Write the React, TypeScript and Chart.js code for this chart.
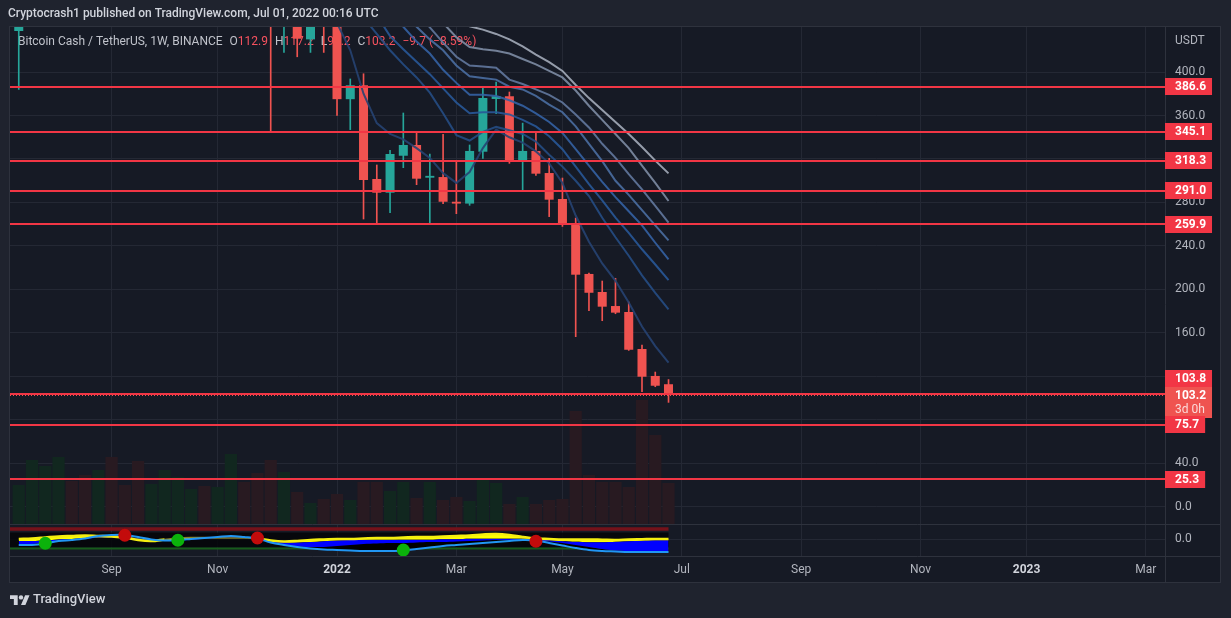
import React, { useEffect, useRef } from 'react';
import { Chart, registerables } from 'chart.js';

Chart.register(...registerables);

// ---------- data ----------
const weekStarts = [
  '2021-07-19', '2021-07-26', '2021-08-02', '2021-08-09', '2021-08-16', '2021-08-23', '2021-08-30',
  '2021-09-06', '2021-09-13', '2021-09-20', '2021-09-27', '2021-10-04', '2021-10-11', '2021-10-18', '2021-10-25',
  '2021-11-01', '2021-11-08', '2021-11-15', '2021-11-22', '2021-11-29', '2021-12-06', '2021-12-13', '2021-12-20', '2021-12-27',
  '2022-01-03', '2022-01-10', '2022-01-17', '2022-01-24', '2022-01-31', '2022-02-07', '2022-02-14', '2022-02-21', '2022-02-28',
  '2022-03-07', '2022-03-14', '2022-03-21', '2022-03-28', '2022-04-04', '2022-04-11', '2022-04-18', '2022-04-25',
  '2022-05-02', '2022-05-09', '2022-05-16', '2022-05-23', '2022-05-30', '2022-06-06', '2022-06-13', '2022-06-20', '2022-06-27',
];

const opens = [437.7, 530, 535, 610, 700, 640, 620, 680, 610, 600, 540, 570, 620, 630, 640, 600, 610, 680, 580, 560,
  458, 465, 430, 455, 446, 375, 387.8, 301.6, 289, 323, 332.9, 302.8, 303.4, 280.7, 279, 326.7, 375.2, 377.7, 318.2, 327.4,
  307.1, 283.2, 261.1, 214.3, 197.7, 184.8, 179.3, 145.3, 120.5, 112.9];
const highs = [545, 560, 620, 740, 730, 690, 700, 720, 660, 610, 590, 640, 660, 680, 660, 640, 720, 690, 620, 570,
  500, 480, 470, 480, 455, 393.6, 398.4, 314.5, 328, 362.3, 343.6, 324.6, 342.7, 317.5, 332.9, 385.9, 390.8, 381.6, 353, 344.2,
  320.6, 302.5, 265.7, 215.2, 207.8, 210.3, 188.5, 149, 124.1, 117.2];
const lows = [384, 490, 520, 600, 615, 610, 615, 520, 590, 510, 520, 560, 590, 610, 580, 570, 600, 560, 530, 345,
  418, 414, 418, 418, 360, 347, 264.8, 260.2, 270.6, 312, 296.4, 259.6, 279, 269.7, 277.4, 320.6, 361.7, 316, 290.8, 305,
  267, 258, 156.6, 180.5, 171.3, 177.7, 144, 106, 110.6, 96.2];
const closes = [530, 535, 610, 700, 640, 620, 680, 610, 600, 540, 570, 620, 630, 640, 600, 610, 680, 580, 560, 460,
  465, 430.6, 455, 446, 375, 387.8, 300.7, 289, 324.6, 332.9, 301.9, 304.5, 280.7, 279, 327.4, 376.1, 377.7, 318.4, 327.4, 306.5,
  282.6, 260.2, 213.6, 197, 184.2, 178.7, 144.6, 119.8, 111.5, 103.2];
const volumes = [390, 640, 580, 670, 430, 490, 540, 670, 390, 630, 400, 540, 470, 350, 380, 370, 700, 420, 510, 640,
  520, 320, 210, 250, 300, 240, 420, 420, 330, 420, 260, 420, 240, 270, 230, 440, 410, 200, 270, 200,
  240, 250, 1130, 490, 420, 420, 370, 1240, 890, 410];

const N = null;
const ribbon1 = [N, N, N, N, N, N, N, N, N, N, N, N, N, N, N, N, N, N, N, N, N, N, N, N, N, N, N, N, N, N, N, N, N,
  450, 442, 439, 435, 430, 423.5, 416, 409, 401, 388, 376, 365, 354, 343, 331, 318.5, 306.8];
const ribbon2 = [N, N, N, N, N, N, N, N, N, N, N, N, N, N, N, N, N, N, N, N, N, N, N, N, N, N, N, N, N, N, N, N,
  445, 432, 423, 421, 419.5, 417, 412, 407, 401, 395, 383, 369, 356, 343, 330, 314, 298, 281.4];
const ribbon3 = [N, N, N, N, N, N, N, N, N, N, N, N, N, N, N, N, N, N, N, N, N, N, N, N, N, N, N, N, N, N,
  455, 441, 427, 414, 406, 405, 404, 393, 389, 384, 379, 372, 361, 349, 334, 321, 306, 292, 277, 261.4];
const ribbon4 = [N, N, N, N, N, N, N, N, N, N, N, N, N, N, N, N, N, N, N, N, N, N, N, N, N, N, N, N, N,
  455, 441.6, 430, 420, 406, 396, 394.5, 393, 386.5, 384, 378, 370, 363, 350, 334, 318, 300, 287, 273, 259, 245.2];
const ribbon5 = [N, N, N, N, N, N, N, N, N, N, N, N, N, N, N, N, N, N, N, N, N, N, N, N, N, N, N, N,
  456, 441.6, 428, 417, 402, 390, 379, 379, 378, 374, 369, 362, 354, 344, 329, 314, 299, 285, 272, 259, 243, 227.7];
const ribbon6 = [N, N, N, N, N, N, N, N, N, N, N, N, N, N, N, N, N, N, N, N, N, N, N, N, N, N, N,
  452, 433, 421, 409.5, 398, 385, 372, 362, 363, 363, 361, 356, 350, 341, 329, 313, 297, 282, 266, 252, 237, 223, 208.7];
const ribbon7 = [N, N, N, N, N, N, N, N, N, N, N, N, N, N, N, N, N, N, N, N, N, N, N, N, N, N,
  450, 435, 420, 407, 395, 381, 362, 342, 337, 345, 349.5, 346.5, 343, 336, 324, 313, 300, 286, 266, 248, 231, 213, 197, 181.8];
const ribbon8 = [N, N, N, N, N, N, N, N, N, N, N, N, N, N, N, N, N, N, N, N, N, N, N,
  470, 445, 420, 380, 353, 343, 338, 330, 321, 307, 298, 308, 330, 347, 340, 335, 327, 316, 298, 268, 244, 224, 208, 188, 166, 148, 132.7];

const waveYellow = [0, 2, 6, 10, 12, 14, 12, 10, 6, -4, -8, -2, 4, 6, 6, 4, 4, 4, 2, -6, -10, -8, -4, -2, 0,
  0, 2, 4, 4, 6, 8, 8, 10, 12, 14, 18, 20, 16, 8, 2, 0, -2, -2, -2, -3, -4, -2, -1, 0, 0];
const waveTop = [-8, -8, -6, -2, 0, 4, 6, 8, 8, 2, -4, -5, -3, -1, 2, 6, 8, 6, 2, -10, -14, -14, -12, -9, -6,
  -4, -3, -3, -3, -3, -3, -3, -1, -1, 1, 1, 1, 1, 1, -1, -5, -9, -11, -13, -13, -11, -9, -7, -5, -5];
const waveBottom = [-22, -20, -12, -6, -2, 2, 4, 6, 6, 0, -6, -8, -6, -3, 1, 4, 6, 4, 0, -14, -24, -30, -32, -32, -28,
  -24, -20, -18, -16, -16, -14, -12, -12, -10, -8, -6, -4, -4, -4, -4, -10, -16, -24, -32, -40, -46, -48, -50, -50, -50];
const waveSignal = [-24, -24, -18, -8, -4, 2, 12, 16, 16, 8, -2, -6, -4, 0, 4, 8, 12, 8, 2, -14, -24, -32, -38, -42, -44,
  -46, -48, -48, -48, -46, -40, -34, -28, -24, -20, -16, -12, -8, -4, -6, -16, -26, -36, -44, -48, -50, -52, -52, -52, -52];
const dimYellowWeeks = [11, 12, 13, 14, 15, 16, 17, 18];
const greenDotWeeks = [2, 12, 29];
const greenDotValues = [-17, -5, -44];
const redDotWeeks = [8, 18, 39];
const redDotValues = [15, 4, -9];
const indicatorUpper = 40;
const indicatorLower = -38;
const indicatorShadeTop = 26;
const indicatorShadeBottom = -34;

const levelPrices = [386.6, 345.1, 318.3, 291.0, 259.9, 103.8, 75.7, 25.3];
const lastClose = 103.2;
const countdown = '3d 0h';
const priceTicks = [0, 40, 80, 120, 160, 200, 240, 280, 320, 360, 400];
const hiddenPriceLabels = [80, 120, 320];
const timeTickWeeks = [7, 15, 24, 33, 41, 50, 59, 68, 76, 85];
const timeTickLabels = ['Sep', 'Nov', '2022', 'Mar', 'May', 'Jul', 'Sep', 'Nov', '2023', 'Mar'];

const headerText = 'Cryptocrash1 published on TradingView.com, Jul 01, 2022 00:16 UTC';
const symbolText = 'Bitcoin Cash / TetherUS, 1W, BINANCE';
const ohlcText = [['O', '112.9'], ['H', '117.2'], ['L', '96.2'], ['C', '103.2']];
const changeText = '\u22129.7 (\u22128.59%)';

// ---------- style ----------
const W = 1231;
const H = 618;
const OUTER_BG = '#1f232e';
const PANE_BG = '#161a25';
const GRID = '#242834';
const BORDER = '#2e323d';
const TEXT = '#b2b5be';
const LEVEL = '#f23645';
const UP = '#26a69a';
const DOWN = '#ef5350';
const FONT = 'Roboto, "Noto Sans", sans-serif';
const ribbonColors = [
  'rgba(172,180,194,0.85)', 'rgba(132,147,172,0.85)', 'rgba(102,126,166,0.85)', 'rgba(74,110,162,0.9)',
  'rgba(52,98,164,0.9)', 'rgba(40,88,152,0.9)', 'rgba(37,76,132,0.9)', 'rgba(38,66,114,0.9)',
];

const tvPlugin = {
  id: 'tvDecor',
  beforeDraw(chart: any) {
    const { ctx, chartArea: a, scales } = chart;
    ctx.save();
    ctx.fillStyle = OUTER_BG;
    ctx.fillRect(0, 0, chart.width, chart.height);
    ctx.fillStyle = PANE_BG;
    ctx.fillRect(a.left - 1, a.top - 1, scales.y.right - a.left + 2, scales.x.bottom - a.top + 2);
    ctx.restore();
  },
  beforeDatasetsDraw(chart: any) {
    const { ctx, chartArea: a, scales } = chart;
    const yi = scales.yi;
    const xs = scales.x;
    ctx.save();
    ctx.beginPath();
    ctx.rect(a.left, a.top, a.right - a.left, a.bottom - a.top);
    ctx.clip();
    const y0 = Math.round(yi.getPixelForValue(0)) + 0.5;
    ctx.strokeStyle = GRID;
    ctx.lineWidth = 1;
    ctx.beginPath();
    ctx.moveTo(a.left, y0);
    ctx.lineTo(a.right, y0);
    ctx.stroke();
    const xEnd = xs.getPixelForValue(weekStarts.length - 1);
    // dark shade behind waves
    const st = yi.getPixelForValue(indicatorShadeTop);
    const sb = yi.getPixelForValue(indicatorShadeBottom);
    ctx.fillStyle = 'rgba(4,5,8,0.85)';
    ctx.fillRect(a.left, st, xEnd - a.left, sb - st);
    ctx.strokeStyle = '#74121a';
    ctx.lineWidth = 3.5;
    ctx.beginPath();
    ctx.moveTo(a.left, yi.getPixelForValue(indicatorUpper));
    ctx.lineTo(xEnd, yi.getPixelForValue(indicatorUpper));
    ctx.stroke();
    ctx.strokeStyle = '#175a1b';
    ctx.lineWidth = 2;
    ctx.beginPath();
    ctx.moveTo(a.left, yi.getPixelForValue(indicatorLower));
    ctx.lineTo(xEnd, yi.getPixelForValue(indicatorLower));
    ctx.stroke();
    ctx.restore();

    // legend text
    ctx.save();
    ctx.font = `12px ${FONT}`;
    ctx.textBaseline = 'middle';
    let x = 18;
    const ly = 42;
    ctx.fillStyle = '#c0c3cb';
    ctx.fillText(symbolText, x, ly);
    x += ctx.measureText(symbolText).width + 7;
    for (const [k, v] of ohlcText) {
      ctx.fillStyle = '#c0c3cb';
      ctx.fillText(k, x, ly);
      x += ctx.measureText(k).width;
      ctx.fillStyle = '#f7525f';
      ctx.fillText(v, x, ly);
      x += ctx.measureText(v).width + 7;
    }
    ctx.fillStyle = '#f7525f';
    ctx.fillText(changeText, x, ly);
    ctx.restore();
  },
  afterDatasetsDraw(chart: any) {
    const { ctx, chartArea: a, scales } = chart;
    const y = scales.y;
    ctx.save();
    ctx.beginPath();
    ctx.rect(a.left, a.top, a.right - a.left, a.bottom - a.top);
    ctx.clip();
    ctx.strokeStyle = DOWN;
    ctx.lineWidth = 1;
    ctx.setLineDash([1, 2]);
    const py = Math.round(y.getPixelForValue(lastClose)) + 0.5;
    ctx.beginPath();
    ctx.moveTo(a.left, py);
    ctx.lineTo(a.right, py);
    ctx.stroke();
    ctx.setLineDash([]);
    ctx.strokeStyle = LEVEL;
    ctx.lineWidth = 2;
    for (const lv of levelPrices) {
      const ly = Math.round(y.getPixelForValue(lv));
      ctx.beginPath();
      ctx.moveTo(a.left, ly);
      ctx.lineTo(a.right, ly);
      ctx.stroke();
    }
    ctx.restore();
  },
  afterDraw(chart: any) {
    const { ctx, chartArea: a, scales } = chart;
    const y = scales.y;
    const yi = scales.yi;
    const yv = scales.yv;
    const right = y.right;
    const bottom = scales.x.bottom;
    ctx.save();
    ctx.strokeStyle = BORDER;
    ctx.lineWidth = 1;
    const sep = Math.round(yv.getPixelForValue(0)) + 0.5;
    ctx.beginPath();
    ctx.moveTo(a.left, sep);
    ctx.lineTo(right, sep);
    ctx.moveTo(a.left, a.bottom + 0.5);
    ctx.lineTo(right, a.bottom + 0.5);
    ctx.moveTo(a.right + 0.5, a.top);
    ctx.lineTo(a.right + 0.5, bottom);
    ctx.stroke();
    ctx.strokeRect(a.left - 0.5, a.top - 0.5, right - a.left + 1, bottom - a.top + 1);

    ctx.font = `12px ${FONT}`;
    ctx.textBaseline = 'middle';
    ctx.fillStyle = TEXT;
    ctx.fillText('USDT', a.right + 10, 41);
    ctx.fillText((0).toFixed(1), a.right + 10, yi.getPixelForValue(0));

    const priceY = y.getPixelForValue(lastClose);
    const priceTop = Math.round(priceY - 8);
    ctx.font = `bold 12px ${FONT}`;
    const t1 = lastClose.toFixed(1);
    const w1 = ctx.measureText(t1).width;
    ctx.font = `12px ${FONT}`;
    const w2 = ctx.measureText(countdown).width;
    ctx.fillStyle = DOWN;
    ctx.fillRect(a.right, priceTop, 10 + Math.max(w1, w2) + 6, 31);
    ctx.font = `bold 12px ${FONT}`;
    ctx.fillStyle = '#ffffff';
    ctx.fillText(t1, a.right + 10, priceTop + 9);
    ctx.font = `12px ${FONT}`;
    ctx.fillStyle = 'rgba(255,255,255,0.78)';
    ctx.fillText(countdown, a.right + 10, priceTop + 23);

    const boxH = 17;
    ctx.font = `bold 12px ${FONT}`;
    for (const lv of levelPrices) {
      let cy = y.getPixelForValue(lv);
      if (Math.abs(cy - priceY) < boxH) cy = priceTop - boxH / 2;
      const t = lv.toFixed(1);
      const w = ctx.measureText(t).width;
      ctx.fillStyle = LEVEL;
      ctx.fillRect(a.right, Math.round(cy - boxH / 2), 10 + w + 6, boxH);
      ctx.fillStyle = '#ffffff';
      ctx.fillText(t, a.right + 10, cy + 0.5);
    }

    ctx.font = `500 12px ${FONT}`;
    ctx.fillStyle = '#d1d4dc';
    ctx.fillText(headerText, 8, 14);

    ctx.fillStyle = '#d1d4dc';
    ctx.save();
    ctx.translate(10, 593);
    ctx.scale(0.55, 0.55);
    ctx.fill(new Path2D('M14 22H7V11H0V4h14v18zM28 22h-8l7.5-18h8L28 22z'));
    ctx.beginPath();
    ctx.arc(20, 8, 4, 0, Math.PI * 2);
    ctx.fill();
    ctx.restore();
    ctx.font = `500 13px ${FONT}`;
    ctx.fillText('TradingView', 33, 600);
    ctx.restore();
  },
};

function buildConfig(): any {
  const idx = weekStarts.map((_, p) => p);
  const dirColor = idx.map((p) => (closes[p] >= opens[p] ? UP : DOWN));
  const volColor = idx.map((p) => (closes[p] >= opens[p] ? '#11271f' : '#281a21'));
  const series = (arr: (number | null)[]) => arr.map((v, p) => ({ x: p, y: v }));
  const ribbons = [ribbon1, ribbon2, ribbon3, ribbon4, ribbon5, ribbon6, ribbon7, ribbon8];
  const isDim = (c: any) => dimYellowWeeks.includes(c.p0DataIndex) && dimYellowWeeks.includes(c.p1DataIndex);

  const datasets: any[] = [];
  datasets.push({
    type: 'line', yAxisID: 'yi', order: 1, showLine: false,
    data: redDotWeeks.map((w, i) => ({ x: w, y: redDotValues[i] })),
    pointRadius: 6.5, pointBackgroundColor: '#c30b0b', pointBorderWidth: 0,
  });
  datasets.push({
    type: 'line', yAxisID: 'yi', order: 1, showLine: false,
    data: greenDotWeeks.map((w, i) => ({ x: w, y: greenDotValues[i] })),
    pointRadius: 6.5, pointBackgroundColor: '#0bb20b', pointBorderWidth: 0,
  });
  datasets.push({
    type: 'bar', yAxisID: 'y', order: 40, grouped: false,
    data: idx.map((p) => ({ x: p, y: [opens[p], closes[p]] })),
    backgroundColor: dirColor, borderWidth: 0, borderSkipped: false,
    barPercentage: 0.68, categoryPercentage: 1, minBarLength: 1,
  });
  datasets.push({
    type: 'bar', yAxisID: 'y', order: 41, grouped: false,
    data: idx.map((p) => ({ x: p, y: [lows[p], highs[p]] })),
    backgroundColor: dirColor, borderWidth: 0, borderSkipped: false,
    barPercentage: 1, categoryPercentage: 1, maxBarThickness: 1,
  });
  ribbons.forEach((r, i) => {
    datasets.push({
      type: 'line', yAxisID: 'y', order: 30 + (7 - i),
      data: series(r), borderColor: ribbonColors[i], borderWidth: 2,
      pointRadius: 0, fill: false, spanGaps: false, tension: 0,
    });
  });
  // 12 yellow, 13 top, 14 bottom, 15 signal
  datasets.push({
    type: 'line', yAxisID: 'yi', order: 91, data: series(waveYellow),
    borderColor: '#f5ee10', borderWidth: 2.6, pointRadius: 0, tension: 0.35,
    segment: {
      borderColor: (c: any) => (isDim(c) ? 'rgba(140,132,40,0.95)' : undefined),
      borderWidth: (c: any) => (isDim(c) ? 1.5 : undefined),
    },
    fill: { target: 13, above: '#ffff00', below: 'rgba(0,0,0,0)' },
  });
  datasets.push({
    type: 'line', yAxisID: 'yi', order: 92, data: series(waveTop),
    borderColor: 'rgba(0,0,0,0)', borderWidth: 0, pointRadius: 0, tension: 0.35,
    fill: { target: 14, above: '#0000ff', below: '#0000ff' },
  });
  datasets.push({
    type: 'line', yAxisID: 'yi', order: 93, data: series(waveBottom),
    borderColor: 'rgba(0,0,0,0)', borderWidth: 0, pointRadius: 0, tension: 0.35,
    fill: { target: 15, above: '#000000', below: '#02030a' },
  });
  datasets.push({
    type: 'line', yAxisID: 'yi', order: 90, data: series(waveSignal),
    borderColor: '#2196f3', borderWidth: 2, pointRadius: 0, tension: 0.35, fill: false,
  });
  datasets.push({
    type: 'bar', yAxisID: 'yv', order: 100, grouped: false,
    data: idx.map((p) => ({ x: p, y: volumes[p] })),
    backgroundColor: volColor, borderWidth: 0,
    barPercentage: 0.92, categoryPercentage: 1,
  });

  return {
    type: 'bar',
    data: { datasets },
    options: {
      animation: false,
      responsive: false,
      events: [],
      layout: { padding: { left: 10, top: 27, right: 11, bottom: 36 } },
      plugins: { legend: { display: false }, tooltip: { enabled: false } },
      scales: {
        x: {
          type: 'linear', position: 'bottom', min: -0.66, max: 86.44, offset: false,
          grid: { color: GRID, drawTicks: false, offset: false },
          border: { display: false },
          afterBuildTicks: (s: any) => { s.ticks = timeTickWeeks.map((v) => ({ value: v })); },
          afterFit: (s: any) => { s.height = 26; },
          ticks: {
            autoSkip: false, maxRotation: 0, minRotation: 0, padding: 7,
            callback: (_v: any, i: number) => timeTickLabels[i],
            color: (c: any) => (/^\d{4}$/.test(timeTickLabels[c.index] || '') ? '#d1d4dc' : TEXT),
            font: (c: any) => ({
              size: 12, family: FONT,
              weight: /^\d{4}$/.test(timeTickLabels[c.index] || '') ? 'bold' : 'normal',
            }),
          },
        },
        y: {
          type: 'linear', position: 'right', min: -45.06, max: 441.38,
          grid: { color: GRID, drawTicks: false },
          border: { display: false },
          afterBuildTicks: (s: any) => { s.ticks = priceTicks.map((v) => ({ value: v })); },
          afterFit: (s: any) => { s.width = 55; },
          ticks: {
            padding: 10, color: TEXT, font: { size: 12, family: FONT },
            callback: (v: any) => (hiddenPriceLabels.includes(v) ? '' : Number(v).toFixed(1)),
          },
        },
        yv: { type: 'linear', display: false, min: -320, max: 4970 },
        yi: { type: 'linear', display: false, min: -68, max: 2048 },
      },
    },
    plugins: [tvPlugin],
  };
}

export default function App() {
  const ref = useRef<HTMLCanvasElement>(null);
  useEffect(() => {
    const chart = new Chart(ref.current as HTMLCanvasElement, buildConfig());
    return () => chart.destroy();
  }, []);
  return (
    <div style={{ position: 'fixed', left: 0, top: 0, width: W, height: H, background: OUTER_BG }}>
      <canvas ref={ref} width={W} height={H} style={{ width: W, height: H, display: 'block' }} />
    </div>
  );
}
